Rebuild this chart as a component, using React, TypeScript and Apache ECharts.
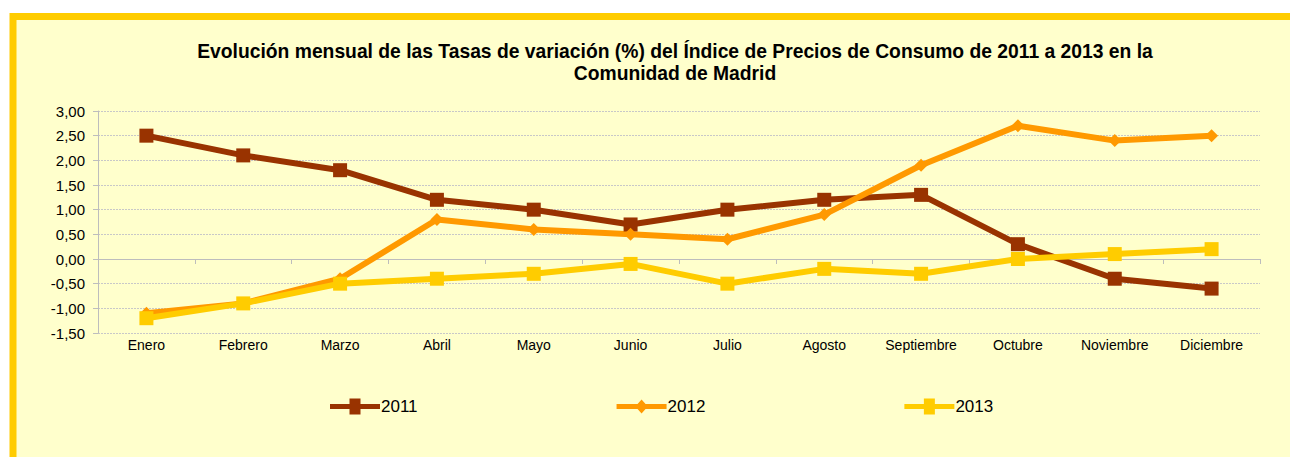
import React, { useEffect, useRef } from "react";
import * as echarts from "echarts";

const months = ["Enero", "Febrero", "Marzo", "Abril", "Mayo", "Junio", "Julio", "Agosto", "Septiembre", "Octubre", "Noviembre", "Diciembre"];
const s2011 = [2.5, 2.1, 1.8, 1.2, 1.0, 0.7, 1.0, 1.2, 1.3, 0.3, -0.4, -0.6];
const s2012 = [-1.1, -0.9, -0.4, 0.8, 0.6, 0.5, 0.4, 0.9, 1.9, 2.7, 2.4, 2.5];
const s2013 = [-1.2, -0.9, -0.5, -0.4, -0.3, -0.1, -0.5, -0.2, -0.3, 0.0, 0.1, 0.2];
const titleText = "Evolución mensual de las Tasas de variación (%) del Índice de Precios de Consumo de 2011 a 2013 en la\nComunidad de Madrid";

const FONT = "'Liberation Sans', Arial, sans-serif";

const SQ = "path://M0,9.5 L19.5,9.5 L19.5,4 L30.5,4 L30.5,9.5 L50,9.5 L50,14.5 L30.5,14.5 L30.5,20 L19.5,20 L19.5,14.5 L0,14.5 Z";
const DI = "path://M0,9.5 L21,9.5 L25,5 L29,9.5 L50,9.5 L50,14.5 L29,14.5 L25,19 L21,14.5 L0,14.5 Z";

export default function App() {
  const ref = useRef<HTMLDivElement>(null);
  useEffect(() => {
    document.body.style.margin = "0";
    const chart = echarts.init(ref.current!, null, { renderer: "svg" });
    const mk = (name: string, data: number[], color: string, symbol: string, size: number) => ({
      name,
      type: "line",
      data,
      symbol,
      symbolSize: size,
      showSymbol: true,
      lineStyle: { color, width: 6 },
      itemStyle: { color, borderWidth: 0 },
      z: 3,
    });
    chart.setOption({
      animation: false,
      backgroundColor: "#ffffff",
      textStyle: { fontFamily: FONT },
      graphic: [
        {
          type: "rect",
          z: -10,
          silent: true,
          shape: { x: 13, y: 16.5, width: 1300, height: 500 },
          style: { fill: "#FFFFCC", stroke: "#FFCC00", lineWidth: 7 },
        },
      ],
      title: {
        text: titleText,
        left: 670,
        textAlign: "center",
        top: 35,
        textStyle: { fontFamily: FONT, fontSize: 19.3, fontWeight: "bold", color: "#000", lineHeight: 22 },
      },
      legend: {
        top: 393,
        left: 325,
        itemGap: 199,
        itemWidth: 50,
        itemHeight: 24,
        textStyle: { fontFamily: FONT, fontSize: 17, color: "#000", padding: [0, 0, 0, -4] },
        data: [
          { name: "2011", icon: SQ },
          { name: "2012", icon: DI },
          { name: "2013", icon: SQ },
        ],
      },
      grid: { left: 98, right: 30, top: 111, height: 222, containLabel: false },
      xAxis: {
        type: "category",
        data: months,
        boundaryGap: true,
        axisLine: { onZero: true, lineStyle: { color: "#BDBDBD", width: 1 } },
        axisTick: { show: true, length: 5, lineStyle: { color: "#BDBDBD" } },
        axisLabel: { fontFamily: FONT, fontSize: 14, color: "#000", margin: 5, interval: 0 },
        position: "bottom",
      },
      yAxis: {
        type: "value",
        min: -1.5,
        max: 3,
        interval: 0.5,
        axisLine: { show: true, lineStyle: { color: "#BDBDBD" } },
        axisTick: { show: true, length: 5, lineStyle: { color: "#BDBDBD" } },
        splitLine: { show: true, lineStyle: { color: "#C8C8C8", width: 1, type: [2, 1] } },
        axisLabel: {
          fontFamily: FONT, fontSize: 15, color: "#000", margin: 13,
          formatter: (v: number) => v.toFixed(2).replace(".", ","),
        },
      },
      series: [
        mk("2011", s2011, "#993300", "rect", 14),
        mk("2012", s2012, "#FF9900", "diamond", 13),
        mk("2013", s2013, "#FFCC00", "rect", 14),
      ],
    });
    return () => chart.dispose();
  }, []);
  return <div ref={ref} style={{ width: 1290, height: 457 }} />;
}
